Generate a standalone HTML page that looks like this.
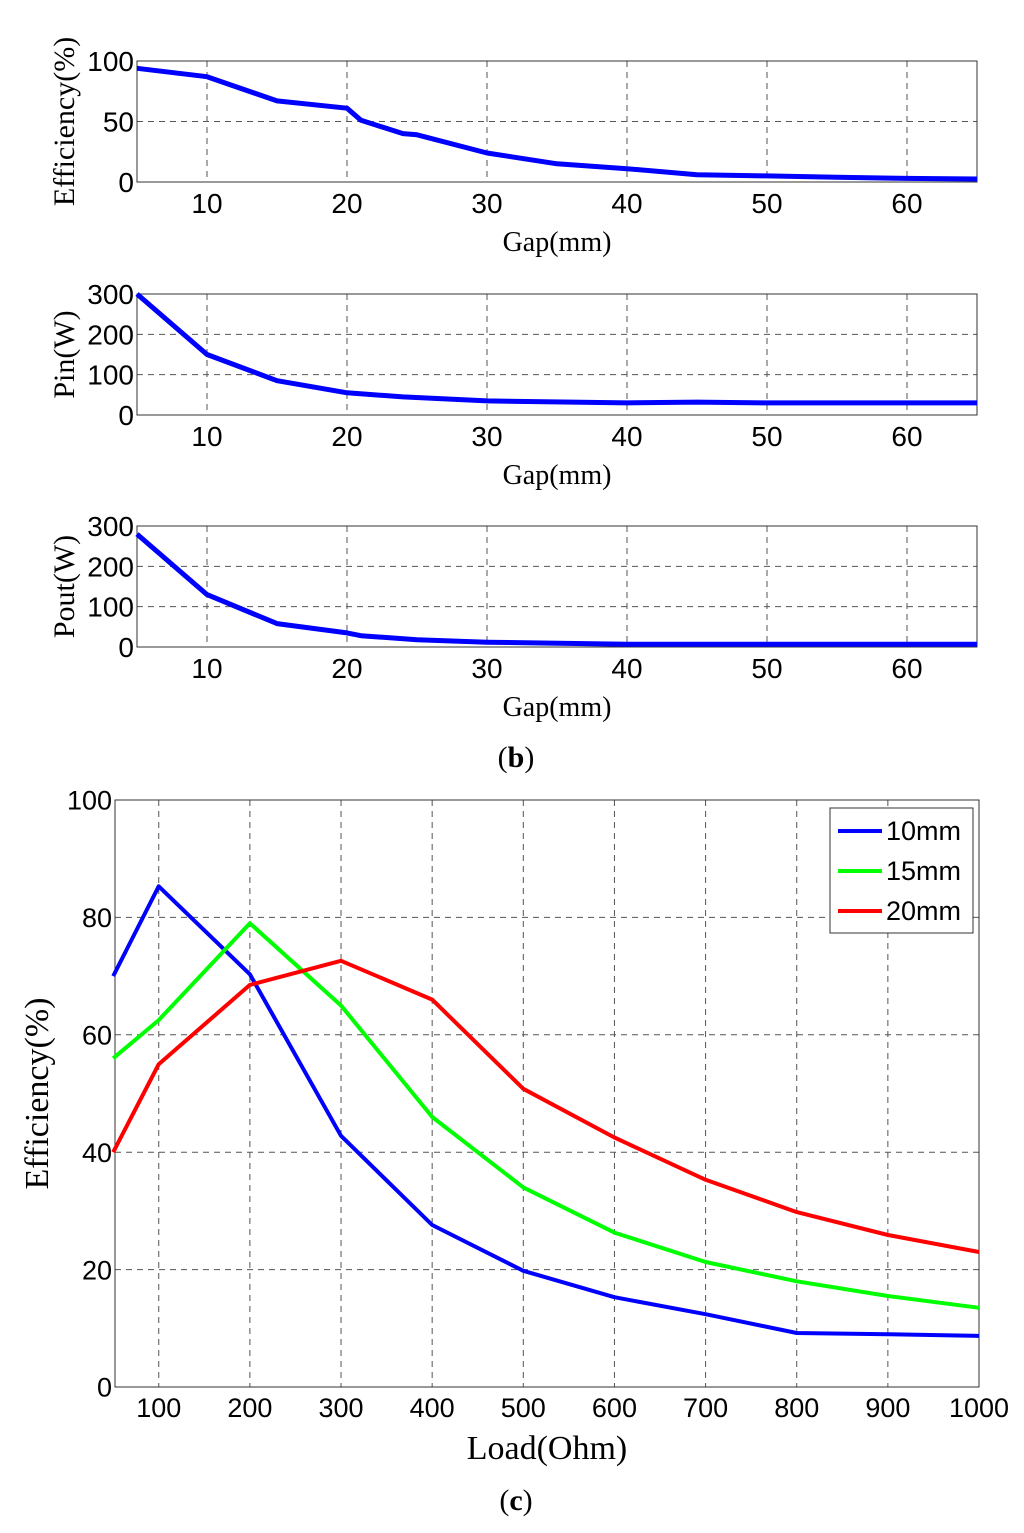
<!DOCTYPE html>
<html><head><meta charset="utf-8"><style>
html,body{margin:0;padding:0;background:#fff;}
svg{display:block;}
</style></head><body>
<svg id="chart" width="1024" height="1533" xmlns="http://www.w3.org/2000/svg"></svg>
<script>
// ---- data ----
const gapEffX = [5,10,15,20,21,24,25,30,35,40,45,50,55,60,65];
const gapEffY = [94,87,67,61,51,40,39,24,15,11,6,5,4,3,2.5];
const gapPinX = [5,10,15,20,24,30,40,45,50,65];
const gapPinY = [300,150,85,55,45,35,30,32,30,30];
const gapPoutX = [5,10,15,20,21,25,30,40,65];
const gapPoutY = [280,130,58,35,28,18,12,7,7];
const gapTicks = [10,20,30,40,50,60];
const effTicks = [0,50,100];
const powTicks = [0,100,200,300];
const loadX = [50,100,200,300,400,500,600,700,800,900,1000];
const eff10 = [70,85.3,70.3,42.8,27.6,19.8,15.3,12.4,9.2,9,8.7];
const eff15 = [56,62.5,79,65,46,34,26.3,21.3,18,15.5,13.5];
const eff20 = [40,55,68.5,72.6,66,50.8,42.5,35.3,29.8,25.9,23];
const loadTicks = [100,200,300,400,500,600,700,800,900,1000];
const loadYTicks = [0,20,40,60,80,100];
const seriesNames = ["10mm","15mm","20mm"];

const NS="http://www.w3.org/2000/svg";
const svg=document.getElementById('chart');
function el(tag,attrs,parent){const e=document.createElementNS(NS,tag);for(const k in attrs)e.setAttribute(k,attrs[k]);(parent||svg).appendChild(e);return e;}
function txt(s,attrs,parent){const t=el('text',attrs,parent);t.textContent=s;return t;}

function panel(name,box,xmin,xmax,ymin,ymax,xt,yt,ylabel,xlabel,fs,seriesList){
  const g=el('g',{});
  
  
  const sx=v=>box.x0+(v-xmin)/(xmax-xmin)*(box.x1-box.x0);
  const sy=v=>box.y1-(v-ymin)/(ymax-ymin)*(box.y1-box.y0);
  xt.forEach(v=>{
    const l=el('line',{x1:sx(v),x2:sx(v),y1:box.y0,y2:box.y1,stroke:'#555','stroke-width':1,'stroke-dasharray':'6,5'},g);
    
    
    const t=txt(String(v),{x:sx(v),y:box.y1+fs+3,'font-family':'Liberation Sans, sans-serif','font-size':fs,'text-anchor':'middle'},g);
    
    
  });
  yt.forEach(v=>{
    if(v!==ymin&&v!==ymax){
      const l=el('line',{x1:box.x0,x2:box.x1,y1:sy(v),y2:sy(v),stroke:'#555','stroke-width':1,'stroke-dasharray':'6,5'},g);
      
      
    }
    const t=txt(String(v),{x:box.x0-3,y:sy(v)+fs*0.36,'font-family':'Liberation Sans, sans-serif','font-size':fs,'text-anchor':'end'},g);
    
    
  });
  const fr=el('rect',{x:box.x0,y:box.y0,width:box.x1-box.x0,height:box.y1-box.y0,fill:'none',stroke:'#333','stroke-width':1},g);
  
  
  seriesList.forEach(s=>{
    const pts=s.x.map((xv,i)=>sx(xv).toFixed(1)+','+sy(s.y[i]).toFixed(1)).join(' ');
    const p=el('polyline',{points:pts,fill:'none',stroke:s.c,'stroke-width':s.w,'stroke-linejoin':'round'},g);
    
    
  });
  const yl=txt(ylabel.s,{x:0,y:0,transform:`translate(${ylabel.x},${(box.y0+box.y1)/2}) rotate(-90)`,'font-family':'Liberation Serif, serif','font-size':ylabel.fs,'text-anchor':'middle'},g);
  
  
  const xl=txt(xlabel.s,{x:(box.x0+box.x1)/2,y:xlabel.y,'font-family':'Liberation Serif, serif','font-size':xlabel.fs,'text-anchor':'middle'},g);
  
  
}

panel('efficiency-vs-gap-panel',{x0:137,x1:977,y0:61,y1:182},5,65,0,100,gapTicks,effTicks,
  {s:'Efficiency(%)',x:74,fs:30},{s:'Gap(mm)',y:251,fs:28},28,
  [{x:gapEffX,y:gapEffY,c:'#0000ff',w:5,n:'efficiency-line'}]);
panel('pin-vs-gap-panel',{x0:137,x1:977,y0:294,y1:415},5,65,0,300,gapTicks,powTicks,
  {s:'Pin(W)',x:74,fs:30},{s:'Gap(mm)',y:484,fs:28},28,
  [{x:gapPinX,y:gapPinY,c:'#0000ff',w:5,n:'pin-line'}]);
panel('pout-vs-gap-panel',{x0:137,x1:977,y0:526,y1:647},5,65,0,300,gapTicks,powTicks,
  {s:'Pout(W)',x:74,fs:30},{s:'Gap(mm)',y:716,fs:28},28,
  [{x:gapPoutX,y:gapPoutY,c:'#0000ff',w:5,n:'pout-line'}]);

let lb=txt('',{x:516,y:767,'font-family':'Liberation Serif, serif','font-size':30,'text-anchor':'middle'});
lb.innerHTML='(<tspan font-weight="bold">b</tspan>)';



const cols=['#0000ff','#00ff00','#ff0000'];
panel('efficiency-vs-load-panel',{x0:115,x1:979,y0:800,y1:1387},52,1000,0,100,loadTicks,loadYTicks,
  {s:'Efficiency(%)',x:48,fs:34},{s:'Load(Ohm)',y:1459,fs:34},27,
  [{x:loadX,y:eff10,c:cols[0],w:4,n:'series-10mm'},{x:loadX,y:eff15,c:cols[1],w:4,n:'series-15mm'},{x:loadX,y:eff20,c:cols[2],w:4,n:'series-20mm'}]);

const lg=el('g',{});


el('rect',{x:830,y:808,width:143,height:125,fill:'#fff',stroke:'#333','stroke-width':1},lg);
seriesNames.forEach((n,i)=>{
  const y=831+i*40;
  const l=el('line',{x1:838,x2:882,y1:y,y2:y,stroke:cols[i],'stroke-width':4},lg);
  
  
  const t=txt(n,{x:886,y:y+9,'font-family':'Liberation Sans, sans-serif','font-size':27},lg);
  
  
});

let lc=txt('',{x:516,y:1510,'font-family':'Liberation Serif, serif','font-size':30,'text-anchor':'middle'});
lc.innerHTML='(<tspan font-weight="bold">c</tspan>)';


</script>
</body></html>
